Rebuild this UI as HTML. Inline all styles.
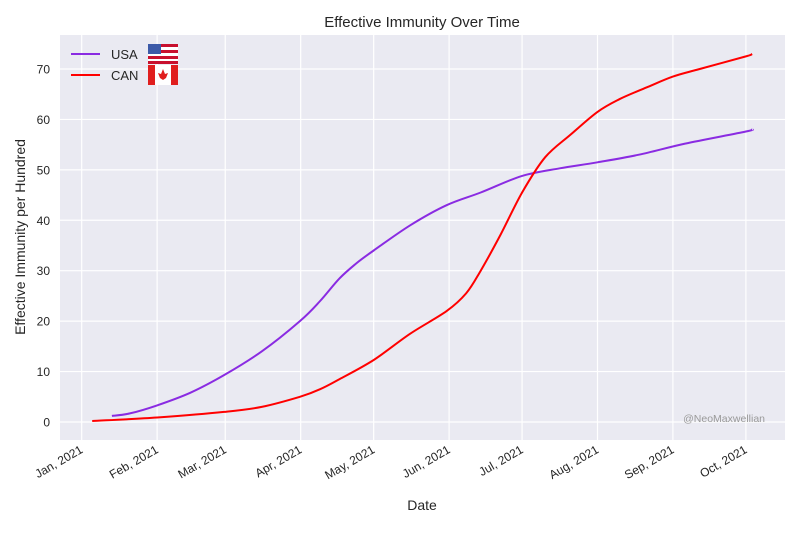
<!DOCTYPE html>
<html><head><meta charset="utf-8"><style>
body{margin:0;background:#fff;font-family:"Liberation Sans",sans-serif}
svg text{font-family:"Liberation Sans",sans-serif;fill:#262626}
</style></head><body>
<svg id="c" width="800" height="550">
<rect x="60" y="35" width="725" height="405" fill="#eaeaf2"/>
<g id="grid"></g><g id="ticks"></g><g id="lines"></g>
<text x="422" y="27" text-anchor="middle" font-size="15">Effective Immunity Over Time</text>
<text x="422" y="510" text-anchor="middle" font-size="14">Date</text>
<text transform="translate(25,237) rotate(-90)" text-anchor="middle" font-size="14">Effective Immunity per Hundred</text>
<text x="765" y="422" text-anchor="end" font-size="10.5" style="fill:#999">@NeoMaxwellian</text>
<g>
<line x1="71" y1="54" x2="100" y2="54" stroke="#8a2be2" stroke-width="2"/>
<text x="111" y="59" font-size="13">USA</text>
<g transform="translate(148,44)">
<rect width="30" height="20" fill="#fff"/>
<rect y="0" width="30" height="3" fill="#c8102e"/><rect y="6" width="30" height="3" fill="#c8102e"/><rect y="12" width="30" height="3" fill="#c8102e"/><rect y="17" width="30" height="3" fill="#c8102e"/>
<rect width="13" height="10" fill="#3c5aa8"/></g>
<line x1="71" y1="75" x2="100" y2="75" stroke="#ff0000" stroke-width="2"/>
<text x="111" y="80" font-size="13">CAN</text>
<g transform="translate(148,65)">
<rect width="30" height="20" fill="#fff"/><rect width="7" height="20" fill="#e01e1e"/><rect x="23" width="7" height="20" fill="#e01e1e"/>
<path d="M15 4 L17 9 L20 8 L18 13 L15 15 L12 13 L10 8 L13 9 Z" fill="#e01e1e"/></g>
</g>
</svg>
<script>
const monthLabels=["Jan, 2021","Feb, 2021","Mar, 2021","Apr, 2021","May, 2021","Jun, 2021","Jul, 2021","Aug, 2021","Sep, 2021","Oct, 2021"];
const monthDays=[0,31,59,90,120,151,181,212,243,273];
const yTicks=[0,10,20,30,40,50,60,70];
const usaDays=[12.4,19.8,31,44.6,58.5,74,89.7,98,106,113,120,135,150,164,181,196.5,212,229,248,273,275.5];
const usaVals=[1.2,1.7,3.3,5.8,9.3,14,20,24,28.5,31.5,34,39,43,45.5,48.8,50.3,51.5,53,55.2,57.6,58];
const canDays=[4.3,31,58.5,74,89.7,98,106,120,135,150,158,164,172,181,190.5,201,212,221,232,243,254,273,275.5];
const canVals=[0.2,0.9,2.0,3.0,5.0,6.5,8.5,12.3,17.5,22,25.5,30,37,45.5,52.5,57,61.5,64,66.3,68.5,70,72.5,73];
const NS="http://www.w3.org/2000/svg";
const X=d=>81.7+d*2.433, Y=v=>422-v*5.043;
const grid=document.getElementById('grid'),ticks=document.getElementById('ticks'),lines=document.getElementById('lines');
function mk(t,a,p){const e=document.createElementNS(NS,t);for(const k in a)e.setAttribute(k,a[k]);p.appendChild(e);return e;}
monthDays.forEach((d,i)=>{
 const l=mk('line',{x1:X(d),x2:X(d),y1:35,y2:440,stroke:'#fff','stroke-width':1.2},grid);
 
 
 const t=mk('text',{transform:`translate(${X(d)+2},${452}) rotate(-30)`,'text-anchor':'end','font-size':12},ticks);
 t.textContent=monthLabels[i];
 
 
});
yTicks.forEach(v=>{
 const l=mk('line',{x1:60,x2:785,y1:Y(v),y2:Y(v),stroke:'#fff','stroke-width':1.2},grid);
 
 
 const t=mk('text',{x:50,y:Y(v)+4.5,'text-anchor':'end','font-size':12},ticks);
 t.textContent=v;
 
 
});
function path(ds,vs,col,name){
 const P=ds.map((d,i)=>[X(d),Y(vs[i])]);
 let s='M'+P[0][0].toFixed(1)+' '+P[0][1].toFixed(1);
 for(let i=0;i<P.length-1;i++){
  const p0=P[Math.max(0,i-1)],p1=P[i],p2=P[i+1],p3=P[Math.min(P.length-1,i+2)];
  const c1=[p1[0]+(p2[0]-p0[0])/6,p1[1]+(p2[1]-p0[1])/6],c2=[p2[0]-(p3[0]-p1[0])/6,p2[1]-(p3[1]-p1[1])/6];
  s+=` C${c1[0].toFixed(1)} ${c1[1].toFixed(1)} ${c2[0].toFixed(1)} ${c2[1].toFixed(1)} ${p2[0].toFixed(1)} ${p2[1].toFixed(1)}`;
 }
 const p=mk('path',{d:s,fill:'none',stroke:col,'stroke-width':2,'stroke-linejoin':'round'},lines);
 
 
}
path(usaDays,usaVals,'#8a2be2','usa-line');
path(canDays,canVals,'#ff0000','can-line');
</script>
</body></html>
